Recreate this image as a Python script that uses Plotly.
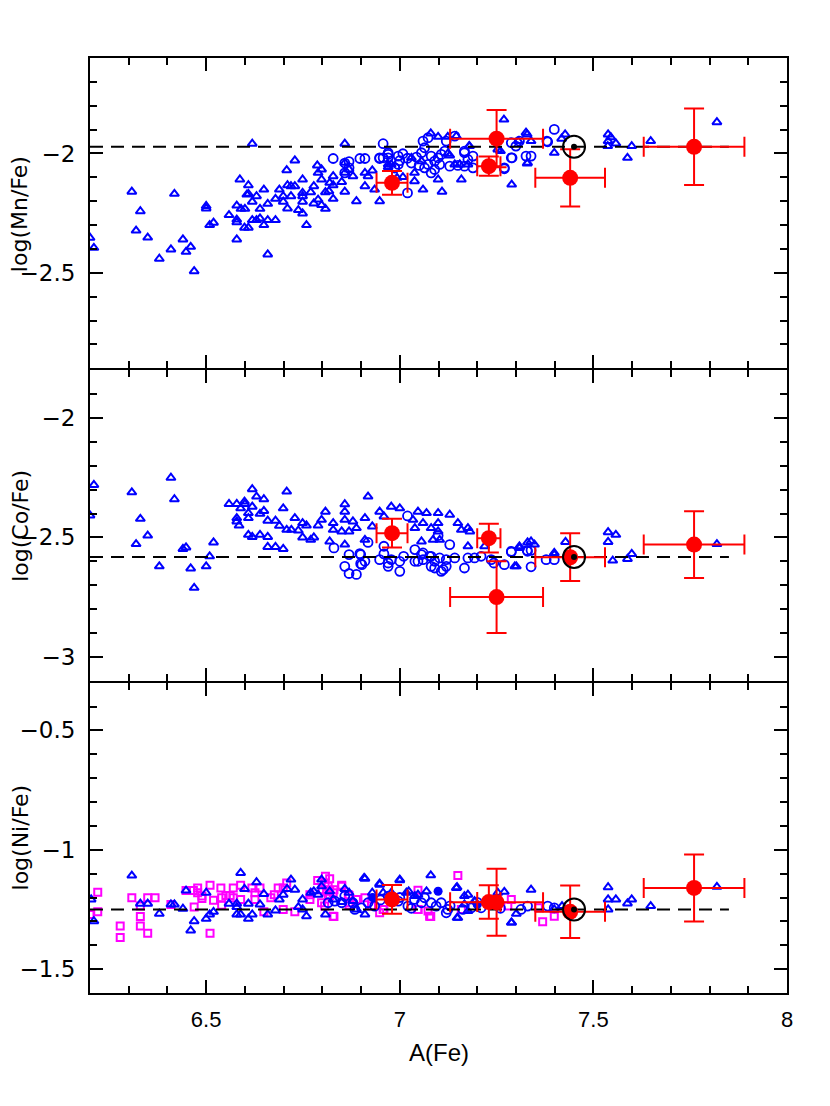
import plotly.graph_objects as go
from plotly.subplots import make_subplots

# ---------------- data ----------------
# Mn panel: blue open triangles
mn_tri_x = [6.20, 6.21, 6.308, 6.319, 6.33, 6.349, 6.379, 6.409, 6.418, 6.44, 6.448, 6.46, 6.469, 6.5, 6.5, 6.509, 6.519,
            6.559, 6.579, 6.579, 6.579, 6.579, 6.587, 6.59, 6.60, 6.599, 6.609, 6.609, 6.609, 6.619, 6.619, 6.63, 6.619,
            6.63, 6.639, 6.639, 6.649, 6.649, 6.659, 6.659, 6.659, 6.679, 6.679, 6.689, 6.699, 6.699, 6.708, 6.71, 6.71,
            6.719, 6.729, 6.719, 6.729, 6.738, 6.749, 6.749, 6.749, 6.749, 6.749, 6.759, 6.77, 6.778, 6.778, 6.787, 6.789,
            6.789, 6.798, 6.798, 6.798, 6.808, 6.808, 6.817, 6.819, 6.828, 6.828, 6.828, 6.85, 6.858, 6.858, 6.858, 6.858,
            6.869, 6.879, 6.888, 6.91, 6.91, 6.918, 6.929, 6.935, 6.948, 6.97, 6.605,
            7.08, 7.099, 7.124, 7.179, 7.269, 7.326, 7.339, 7.399, 7.159, 7.109, 7.06, 7.099, 7.038, 7.289, 7.33, 7.008,
            7.038, 7.03, 7.056, 7.142, 7.155, 7.176, 7.253, 7.124, 6.993, 6.97, 6.978, 7.329, 7.427, 7.418, 7.538, 7.545,
            7.538, 7.558, 7.537, 7.588, 7.599, 7.648, 7.819, 7.146, 7.18, 7.26, 7.306, 7.129, 7.329]
mn_tri_y = [-2.353, -2.395, -2.16, -2.323, -2.242, -2.352, -2.441, -2.402, -2.169, -2.36, -2.412, -2.391, -2.493, -2.22,
            -2.23, -2.30, -2.29, -2.258, -2.218, -2.277, -2.288, -2.36, -2.109, -2.232, -2.232, -2.311, -2.311, -2.133,
            -2.169, -2.202, -2.279, -2.279, -1.959, -2.179, -2.232, -2.272, -2.151, -2.30, -2.211, -2.279, -2.423, -2.19,
            -2.279, -2.151, -2.179, -2.202, -2.07, -2.133, -2.23, -2.137, -2.137, -2.179, -2.029, -2.237, -2.109, -2.165,
            -2.179, -2.202, -2.251, -2.30, -2.162, -2.137, -2.209, -2.05, -2.081, -2.193, -2.067, -2.109, -2.216, -2.162,
            -2.232, -2.158, -2.123, -2.095, -2.133, -2.19, -2.119, -1.959, -2.039, -2.081, -2.16, -2.067, -2.095, -2.20,
            -2.081, -2.137, -2.095, -2.071, -2.151, -2.20, -2.057, -2.172,
            -1.916, -1.93, -1.93, -1.969, -1.858, -1.913, -1.948, -1.997, -2.109, -2.16, -2.151, -2.109, -2.116, -2.13,
            -2.039, -2.099, -2.081, -2.018, -2.032, -2.046, -2.046, -2.046, -1.983, -2.001, -2.102, -2.046, -2.046, -1.92,
            -1.92, -1.938, -1.92, -1.932, -1.948, -1.958, -1.969, -2.018, -1.969, -1.948, -1.869, -1.927, -1.969, -1.99,
            -1.948, -2.008, -2.042]
# Mn panel: blue open circles
mn_cir_x = [6.957, 6.828, 6.869, 6.858, 6.897, 6.91, 6.948, 6.97, 6.97, 6.858, 6.869, 6.996, 7.008, 7.02, 6.987, 7.043,
            7.056, 7.064, 7.06, 7.073, 7.081, 7.09, 7.099, 7.107, 7.116, 7.09, 7.081, 7.064, 7.073, 7.103, 7.129, 7.12,
            7.142, 7.167, 7.176, 7.189, 7.189, 7.167, 7.288, 7.29, 7.30, 7.326, 7.339, 7.382, 7.399, 7.27, 6.957, 6.97,
            6.948, 6.996, 6.987, 7.38, 7.288, 7.27, 7.309, 7.167, 7.15, 7.02, 7.03, 7.05, 7.0]
mn_cir_y = [-1.959, -2.021, -2.034, -2.04, -2.021, -2.021, -2.021, -1.997, -2.018, -2.081, -2.06, -2.011, -2.001, -2.165,
            -2.06, -2.015, -1.997, -1.976, -1.948, -1.934, -2.011, -2.032, -2.018, -2.004, -1.99, -2.067, -2.081, -2.06,
            -2.046, -2.046, -2.053, -1.948, -1.927, -1.997, -2.025, -2.011, -2.06, -2.053, -1.955, -2.018, -1.969, -2.011,
            -2.011, -1.951, -1.899, -2.06, -2.018, -2.004, -2.018, -2.046, -2.06, -1.948, -2.018, -2.064, -1.948, -1.99,
            -2.05, -2.02, -2.04, -2.05, -2.03]

# Co panel: blue open triangles
co_tri_x = [6.21, 6.20, 6.308, 6.319, 6.33, 6.349, 6.379, 6.409, 6.418, 6.44, 6.448, 6.46, 6.469, 6.5, 6.509, 6.519,
            6.559, 6.579, 6.589, 6.599, 6.6, 6.619, 6.579, 6.579, 6.585, 6.609, 6.609, 6.609, 6.619, 6.639, 6.659,
            6.619, 6.63, 6.649, 6.639, 6.649, 6.659, 6.679, 6.689, 6.699, 6.708, 6.659, 6.679, 6.699,
            6.708, 6.72, 6.729, 6.738, 6.749, 6.759, 6.749, 6.77, 6.778, 6.789, 6.798, 6.808, 6.819, 6.828, 6.828, 6.85,
            6.858, 6.858, 6.858, 6.858, 6.869, 6.879, 6.888, 6.91, 6.918, 6.91, 6.929, 6.948, 6.959, 6.978, 7.0,
            7.034, 7.047, 7.069, 7.099, 7.129, 7.06, 7.099, 7.039, 7.081, 7.099, 7.15, 7.159, 7.176, 7.181, 7.056, 7.086,
            7.103, 7.176, 7.219, 7.297, 7.339, 7.309, 7.348, 7.399, 7.309, 7.33, 7.301, 7.399, 7.428, 7.538, 7.558,
            7.538, 7.55, 7.588, 7.599, 7.819]
co_tri_y = [-2.28, -2.408, -2.311, -2.528, -2.422, -2.492, -2.621, -2.25, -2.34, -2.548, -2.542, -2.63, -2.711, -2.621,
            -2.579, -2.521, -2.36, -2.36, -2.378, -2.35, -2.36, -2.371, -2.419, -2.433, -2.45, -2.419, -2.398, -2.489,
            -2.498, -2.489, -2.498, -2.298, -2.329, -2.34, -2.401, -2.389, -2.43, -2.43, -2.451, -2.378, -2.308, -2.54,
            -2.54, -2.548,
            -2.468, -2.468, -2.419, -2.471, -2.44, -2.45, -2.50, -2.51, -2.50, -2.45, -2.426, -2.392, -2.517, -2.44,
            -2.468, -2.475, -2.361, -2.392, -2.426, -2.53, -2.475, -2.433, -2.461, -2.419, -2.329, -2.51, -2.454, -2.392,
            -2.412, -2.371, -2.378,
            -2.426, -2.392, -2.398, -2.398, -2.405, -2.44, -2.44, -2.461, -2.461, -2.475, -2.44, -2.468, -2.461, -2.475,
            -2.517, -2.51, -2.51, -2.537, -2.537, -2.621, -2.517, -2.544, -2.53, -2.572, -2.537, -2.521, -2.621, -2.565,
            -2.519, -2.478, -2.489, -2.519, -2.597, -2.59, -2.569, -2.528]
# Co panel: blue open circles
co_cir_x = [6.83, 6.858, 6.869, 6.869, 6.899, 6.899, 6.91, 6.918, 6.948, 6.959, 6.959, 6.97, 6.97, 6.978, 7.0, 7.0, 7.01,
            7.02, 7.039, 7.039, 6.888, 6.902, 6.897,
            7.056, 7.06, 7.081, 7.09, 7.103, 7.12, 7.142, 7.081, 7.09, 7.107, 7.12, 7.129, 7.167, 7.176, 7.193, 7.21,
            7.236, 7.243, 7.27, 7.288, 7.33, 7.339, 7.288, 7.329, 7.339, 7.378, 7.399, 7.047, 7.06, 7.077, 7.112, 7.099]
co_cir_y = [-2.544, -2.621, -2.651, -2.572, -2.572, -2.61, -2.60, -2.521, -2.593, -2.537, -2.569, -2.621, -2.607, -2.593,
            -2.642, -2.60, -2.579, -2.41, -2.551, -2.60, -2.655, -2.614, -2.568,
            -2.572, -2.593, -2.579, -2.60, -2.586, -2.593, -2.586, -2.621, -2.628, -2.642, -2.621, -2.53, -2.628, -2.586,
            -2.586, -2.579, -2.593, -2.607, -2.614, -2.558, -2.558, -2.623, -2.561, -2.554, -2.554, -2.593, -2.593, -2.60,
            -2.565, -2.579, -2.635, -2.492]

# Ni panel: blue open triangles
ni_tri_x = [6.203, 6.21, 6.308, 6.33, 6.349, 6.379, 6.409, 6.418, 6.44, 6.448, 6.46, 6.469, 6.5, 6.5, 6.509, 6.519,
            6.559, 6.579, 6.579, 6.589, 6.579, 6.589, 6.599, 6.609, 6.609, 6.619, 6.63, 6.639, 6.649, 6.659, 6.679,
            6.689, 6.699, 6.709, 6.719, 6.729, 6.738, 6.749, 6.749, 6.759, 6.77, 6.778, 6.789, 6.798, 6.798, 6.808,
            6.819, 6.828, 6.85, 6.858, 6.869, 6.879, 6.888, 6.91, 6.91, 6.929, 6.948, 6.978, 7.0, 7.017, 7.039,
            6.908, 7.0, 7.08, 6.948, 6.957, 7.023, 7.069, 7.047, 7.146, 7.167, 7.176, 7.193, 7.167, 7.15, 7.288, 7.339,
            7.176, 7.538, 7.538, 7.558, 7.599, 7.588, 7.648, 7.819, 7.538, 7.301, 7.289, 7.27, 7.148, 7.148, 7.253,
            7.399, 7.419]
ni_tri_y = [-1.208, -1.299, -1.108, -1.226, -1.226, -1.268, -1.229, -1.229, -1.247, -1.171, -1.338, -1.299, -1.289,
            -1.18, -1.271, -1.26, -1.226, -1.24, -1.271, -1.271, -1.226, -1.097, -1.164, -1.226, -1.289, -1.271, -1.136,
            -1.229, -1.185, -1.271, -1.254, -1.208, -1.188, -1.164, -1.125, -1.167, -1.24, -1.208, -1.25, -1.278, -1.18,
            -1.174, -1.188, -1.153, -1.125, -1.271, -1.174, -1.208, -1.219, -1.164, -1.18, -1.215, -1.25, -1.121, -1.271,
            -1.18, -1.142, -1.18, -1.125, -1.18, -1.194,
            -1.118, -1.128, -1.107, -1.146, -1.18, -1.174, -1.174, -1.188, -1.16, -1.194, -1.188, -1.215, -1.229, -1.285,
            -1.305, -1.167, -1.257, -1.157, -1.208, -1.208, -1.208, -1.225, -1.236, -1.155, -1.25, -1.268, -1.305,
            -1.176, -1.157, -1.285, -1.18, -1.25, -1.236]
# Ni panel: blue open circles
ni_cir_x = [6.815, 6.832, 6.85, 6.858, 6.879, 6.884, 6.901, 6.918, 6.935, 6.97, 6.996, 7.021, 7.038, 7.056, 7.064,
            7.081, 7.094, 7.107, 7.12, 7.124, 7.163, 7.185, 7.21, 7.313, 7.33, 7.382, 7.399, 6.95, 7.0, 7.03, 7.13,
            7.2, 7.26]
ni_cir_y = [-1.222, -1.215, -1.222, -1.194, -1.222, -1.25, -1.243, -1.222, -1.236, -1.194, -1.215, -1.236, -1.208,
            -1.222, -1.201, -1.222, -1.236, -1.222, -1.264, -1.25, -1.25, -1.243, -1.243, -1.25, -1.236, -1.236, -1.243,
            -1.21, -1.2, -1.245, -1.235, -1.22, -1.245]
# Ni panel: blue filled circles
ni_fil_x = [7.099, 6.93, 7.2]
ni_fil_y = [-1.174, -1.2, -1.23]
# Ni panel: magenta open squares
ni_sq_x = [6.2, 6.22, 6.22, 6.278, 6.278, 6.308, 6.33, 6.33, 6.33, 6.349, 6.349, 6.368, 6.409, 6.448, 6.467, 6.478,
           6.478, 6.489, 6.489, 6.469, 6.51, 6.51, 6.519, 6.538, 6.54, 6.54, 6.551, 6.562, 6.57, 6.57, 6.589, 6.589,
           6.618, 6.626, 6.626, 6.639, 6.649, 6.667, 6.676, 6.686, 6.699, 6.699, 6.708, 6.729, 6.768, 6.768, 6.788,
           6.798, 6.8, 6.808, 6.819, 6.807, 6.819, 6.819, 6.83, 6.83, 6.85, 6.869, 6.869, 6.89, 6.91, 6.948, 6.959,
           7.047, 7.15, 7.159, 7.047, 7.08, 7.288, 7.279, 7.358, 7.369, 7.399,
           6.815, 6.828, 6.811, 6.815, 6.806, 6.828, 6.85, 6.867, 6.871, 6.888, 6.927, 6.957, 7.047, 7.077, 7.073]
ni_sq_y = [-1.271, -1.178, -1.26, -1.319, -1.368, -1.201, -1.236, -1.28, -1.319, -1.201, -1.35, -1.201, -1.229, -1.171,
           -1.171, -1.16, -1.18, -1.194, -1.204, -1.24, -1.149, -1.35, -1.211, -1.16, -1.201, -1.232, -1.192, -1.192,
           -1.16, -1.201, -1.149, -1.208, -1.16, -1.18, -1.208, -1.16, -1.26, -1.201, -1.188, -1.16, -1.16, -1.25,
           -1.139, -1.26, -1.188, -1.208, -1.129, -1.222, -1.167, -1.111, -1.121, -1.139, -1.17, -1.192, -1.167, -1.28,
           -1.149, -1.192, -1.232, -1.208, -1.201, -1.264, -1.25,
           -1.17, -1.108, -1.25, -1.25, -1.28, -1.208, -1.236, -1.243, -1.301, -1.278,
           -1.153, -1.18, -1.174, -1.194, -1.236, -1.278, -1.153, -1.188, -1.222, -1.208, -1.236, -1.25, -1.25, -1.278,
           -1.257]

# Red points (this work) with errors
red_x = [6.98, 7.23, 7.25, 7.44, 7.76]
red_xerr = [0.04, 0.03, 0.12, 0.09, 0.13]
mn_red_y = [-2.123, -2.053, -1.938, -2.102, -1.972]
mn_red_yerr = [0.05, 0.04, 0.12, 0.12, 0.16]
co_red_y = [-2.482, -2.503, -2.75, -2.583, -2.53]
co_red_yerr = [0.06, 0.06, 0.15, 0.10, 0.14]
ni_red_y = [-1.208, -1.219, -1.22, -1.26, -1.16]
ni_red_yerr = [0.06, 0.07, 0.14, 0.11, 0.14]

# Solar values
sun_x = 7.45
solar_levels = [-1.972, -2.582, -1.25]
solar_line_x = [6.2, 7.85]

y_titles = ["log(Mn/Fe)", "log(Co/Fe)", "log(Ni/Fe)"]
y_ranges = [[-2.9, -1.6], [-3.1, -1.8], [-1.6, -0.3]]

# ---------------- figure ----------------
PLOT_H = 935
fig = make_subplots(rows=3, cols=1, shared_xaxes=True, vertical_spacing=2 / PLOT_H)

BLUE = "#0000ff"
RED = "#ff0000"
MAG = "#ff00ff"

panels = [
    (mn_tri_x, mn_tri_y, mn_cir_x, mn_cir_y, None, None, None, None, mn_red_y, mn_red_yerr),
    (co_tri_x, co_tri_y, co_cir_x, co_cir_y, None, None, None, None, co_red_y, co_red_yerr),
    (ni_tri_x, ni_tri_y, ni_cir_x, ni_cir_y, ni_sq_x, ni_sq_y, ni_fil_x, ni_fil_y, ni_red_y, ni_red_yerr),
]

for i, (tx, ty, cx, cy, sx, sy, fx, fy, ry, ryerr) in enumerate(panels):
    r = i + 1
    if sx is not None:
        fig.add_trace(go.Scatter(x=sx, y=sy, mode="markers",
                                 marker=dict(symbol="square-open", size=7, color=MAG, line=dict(width=2, color=MAG))),
                      row=r, col=1)
    fig.add_trace(go.Scatter(x=tx, y=ty, mode="markers",
                             marker=dict(symbol="triangle-up-open", size=8, color=BLUE, line=dict(width=2, color=BLUE))),
                  row=r, col=1)
    fig.add_trace(go.Scatter(x=cx, y=cy, mode="markers",
                             marker=dict(symbol="circle-open", size=9, color=BLUE, line=dict(width=1.8, color=BLUE))),
                  row=r, col=1)
    if fx is not None:
        fig.add_trace(go.Scatter(x=fx, y=fy, mode="markers",
                                 marker=dict(symbol="circle", size=9, color=BLUE)), row=r, col=1)
    fig.add_trace(go.Scatter(x=solar_line_x, y=[solar_levels[i]] * 2, mode="lines",
                             line=dict(color="black", width=2, dash="13px,8px")), row=r, col=1)
    fig.add_trace(go.Scatter(x=red_x, y=ry, mode="markers",
                             marker=dict(symbol="circle", size=16, color=RED),
                             error_x=dict(type="data", array=red_xerr, color=RED, thickness=2, width=10),
                             error_y=dict(type="data", array=ryerr, color=RED, thickness=2, width=10)),
                  row=r, col=1)
    fig.add_trace(go.Scatter(x=[sun_x], y=[solar_levels[i]], mode="markers",
                             marker=dict(symbol="circle-open", size=22, color="black", line=dict(width=2, color="black"))),
                  row=r, col=1)
    fig.add_trace(go.Scatter(x=[sun_x], y=[solar_levels[i]], mode="markers",
                             marker=dict(symbol="circle", size=6, color="black")), row=r, col=1)

    fig.update_yaxes(range=y_ranges[i], tick0=0, dtick=0.5, row=r, col=1)

YFONT = "DejaVu Sans"
XFONT = "Liberation Sans"
fig.update_xaxes(range=[6.2, 8], tick0=6.5, dtick=0.5, ticks="inside", ticklen=13, tickwidth=2,
                 tickcolor="black", showline=True, linewidth=2, linecolor="black", mirror="allticks",
                 showgrid=False, zeroline=False, ticklabelstandoff=6,
                 minor=dict(ticks="inside", ticklen=7, tickwidth=1.5, tickcolor="black", dtick=0.1, showgrid=False),
                 tickfont=dict(family=XFONT, size=22, color="black"))
fig.update_yaxes(ticks="inside", ticklen=13, tickwidth=2, tickcolor="black", showline=True, linewidth=2,
                 linecolor="black", mirror="allticks", showgrid=False, zeroline=False,
                 minor=dict(ticks="inside", ticklen=7, tickwidth=1.5, tickcolor="black", dtick=0.1, showgrid=False),
                 tickfont=dict(family=YFONT, size=23, color="black"), ticklabelstandoff=8)

annotations = []
for i, t in enumerate(y_titles):
    yc = 1 - (i + 0.5) / 3
    annotations.append(dict(text=t, xref="paper", yref="paper", x=-0.1, y=yc,
                            textangle=-90, showarrow=False, xanchor="center", yanchor="middle",
                            font=dict(family=YFONT, size=22, color="black")))
annotations.append(dict(text="A(Fe)", xref="paper", yref="paper", x=0.5, y=-0.064, showarrow=False,
                        xanchor="center", yanchor="middle", font=dict(family=XFONT, size=24, color="black")))

fig.update_layout(width=822, height=1098, margin=dict(l=80, r=43, t=50, b=113),
                  paper_bgcolor="white", plot_bgcolor="white", showlegend=False,
                  annotations=annotations)

fig.write_html("out.html")
